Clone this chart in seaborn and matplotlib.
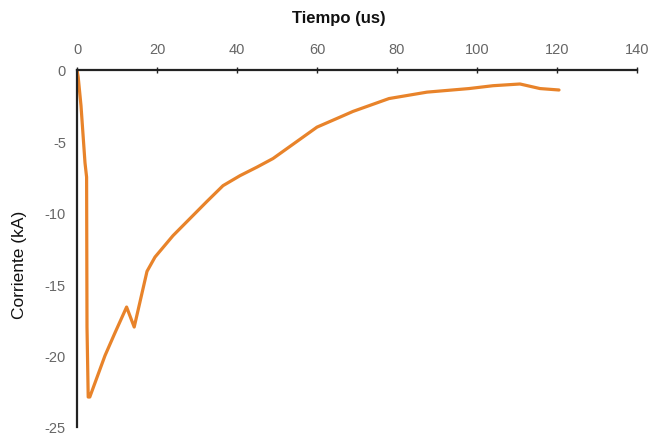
import matplotlib
matplotlib.use("Agg")
import matplotlib.pyplot as plt
import seaborn as sns
import pandas as pd

tiempo_us = [0, 0.3, 1.0, 1.5, 2.0, 2.4, 2.5, 2.8, 3.2, 7.0, 9.5, 12.4, 14.3,
             17.5, 19.5, 24.0, 32.5, 36.5, 40.75, 45.0, 49.0, 55.0, 60.0,
             65.75, 69.0, 78.0, 87.5, 98.0, 104.0, 110.75, 115.75, 120.5]
corriente_ka = [0, -0.5, -2.5, -4.5, -6.5, -7.5, -18.0, -22.9, -22.9, -20.0,
                -18.4, -16.6, -18.0, -14.1, -13.1, -11.6, -9.2, -8.1, -7.4,
                -6.8, -6.2, -5.0, -4.0, -3.3, -2.9, -2.0, -1.55, -1.3, -1.1,
                -0.98, -1.3, -1.4]

x_ticks = [0, 20, 40, 60, 80, 100, 120, 140]
y_ticks = [0, -5, -10, -15, -20, -25]

df = pd.DataFrame({"t": tiempo_us, "i": corriente_ka})

sns.set_style("white")
plt.rcParams["font.family"] = ["Liberation Sans", "DejaVu Sans"]
plt.rcParams["axes.unicode_minus"] = False

fig = plt.figure(figsize=(6.52, 4.39), dpi=100)
ax = fig.add_axes([77 / 652, 11 / 439, 560 / 652, 357 / 439])

sns.lineplot(data=df, x="t", y="i", ax=ax, color="#E8832A", linewidth=2.3,
             sort=False, estimator=None)

ax.set_xlim(0, 140)
ax.set_ylim(-25, 0)
ax.set_xticks(x_ticks)
ax.set_yticks(y_ticks)
ax.xaxis.tick_top()
ax.xaxis.set_label_position("top")
for s in ["right", "bottom"]:
    ax.spines[s].set_visible(False)
for s in ["left", "top"]:
    ax.spines[s].set_color("#222222")
    ax.spines[s].set_linewidth(1.6)
    ax.spines[s].set_zorder(3)

ax.tick_params(axis="x", direction="inout", length=4, width=1, colors="#222222",
               labelcolor="#666666", labelsize=10.5, pad=8)
ax.tick_params(axis="y", direction="out", length=3, width=1, colors="#222222",
               labelcolor="#666666", labelsize=10.5, pad=5)
ax.set_xlabel("Tiempo (us)", fontsize=12, fontweight="bold", color="#111111")
ax.set_ylabel("Corriente (kA)", fontsize=12.5, color="#111111")
ax.xaxis.set_label_coords(0.468, 1.148)
ax.xaxis.label.set_va("center")
ax.yaxis.set_label_coords(-0.102, 0.457)
ax.yaxis.label.set_va("center")
ax.grid(False)

fig.savefig("out.png", dpi=100, facecolor="white")
